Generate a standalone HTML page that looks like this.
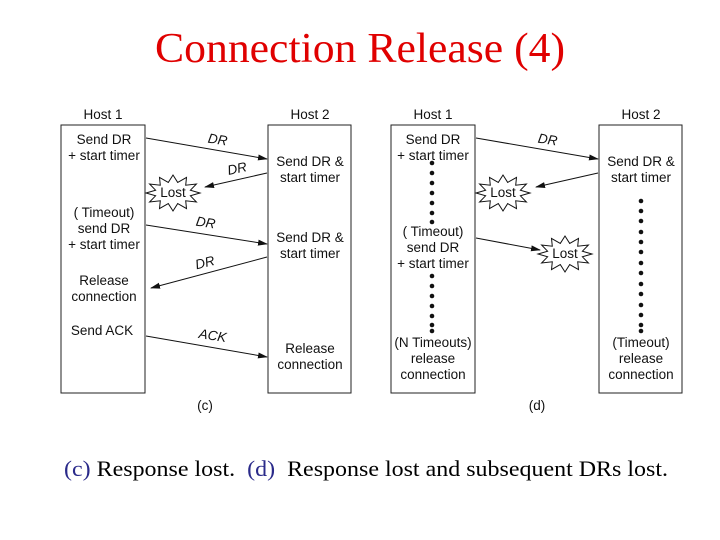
<!DOCTYPE html>
<html><head><meta charset="utf-8"><style>
html,body{margin:0;padding:0;background:#fff;}
svg{display:block;}
.t{font-family:"Liberation Sans",Arial,sans-serif;font-size:13.5px;fill:#111;text-anchor:middle;}
.i{font-style:italic;}
</style></head><body>
<svg width="720" height="540" viewBox="0 0 720 540" xmlns="http://www.w3.org/2000/svg">
<defs>
<marker id="a" markerWidth="10" markerHeight="8" refX="9" refY="4" orient="auto" markerUnits="userSpaceOnUse">
<path d="M0,1 L10,4 L0,7 Z" fill="#111"/></marker>
<polygon id="b" points="27,0 17.4,2.8 23.4,9 12.7,7.8 13.5,15.6 4.7,10.6 0,18 -4.7,10.6 -13.5,15.6 -12.7,7.8 -23.4,9 -17.4,2.8 -27,0 -17.4,-2.8 -23.4,-9 -12.7,-7.8 -13.5,-15.6 -4.7,-10.6 0,-18 4.7,-10.6 13.5,-15.6 12.7,-7.8 23.4,-9 17.4,-2.8" fill="#fff" stroke="#111" stroke-width="1"/>
</defs>
<text x="155" y="62" textLength="410" lengthAdjust="spacingAndGlyphs" font-family="Liberation Serif,serif" font-size="42" fill="#e00000">Connection Release (4)</text>

<g stroke="#222" stroke-width="1" fill="none">
<rect x="61" y="125" width="84" height="268"/>
<rect x="268" y="125" width="83" height="268"/>
<rect x="391" y="125" width="84" height="268"/>
<rect x="599" y="125" width="83" height="268"/>
</g>
<g class="t">
<text x="103" y="119">Host 1</text><text x="310" y="119">Host 2</text>
<text x="433" y="119">Host 1</text><text x="641" y="119">Host 2</text>
<text x="104" y="144">Send DR</text><text x="104" y="160">+ start timer</text>
<text x="104" y="217">( Timeout)</text><text x="104" y="233">send DR</text><text x="104" y="249">+ start timer</text>
<text x="104" y="285">Release</text><text x="104" y="301">connection</text>
<text x="102" y="335">Send ACK</text>
<text x="310" y="166">Send DR &amp;</text><text x="310" y="182">start timer</text>
<text x="310" y="242">Send DR &amp;</text><text x="310" y="258">start timer</text>
<text x="310" y="353">Release</text><text x="310" y="369">connection</text>
<text x="205" y="410">(c)</text>
<text x="433" y="144">Send DR</text><text x="433" y="160">+ start timer</text>
<text x="433" y="236">( Timeout)</text><text x="433" y="252">send DR</text><text x="433" y="268">+ start timer</text>
<text x="433" y="347">(N Timeouts)</text><text x="433" y="363">release</text><text x="433" y="379">connection</text>
<text x="641" y="166">Send DR &amp;</text><text x="641" y="182">start timer</text>
<text x="641" y="347">(Timeout)</text><text x="641" y="363">release</text><text x="641" y="379">connection</text>
<text x="537" y="410">(d)</text>
</g>
<g stroke="#111" stroke-width="1" marker-end="url(#a)">
<line x1="146" y1="138" x2="267" y2="159"/>
<line x1="267" y1="173" x2="205" y2="187"/>
<line x1="146" y1="225" x2="267" y2="244"/>
<line x1="267" y1="257" x2="151" y2="288"/>
<line x1="146" y1="336" x2="267" y2="357"/>
<line x1="476" y1="138" x2="598" y2="159"/>
<line x1="598" y1="173" x2="536" y2="187"/>
<line x1="476" y1="238" x2="540" y2="250"/>
</g>
<g class="t i">
<text x="217" y="144" transform="rotate(9 217 144)">DR</text>
<text x="238" y="173" transform="rotate(-12 238 173)">DR</text>
<text x="205" y="227" transform="rotate(9 205 227)">DR</text>
<text x="206" y="267" transform="rotate(-14 206 267)">DR</text>
<text x="212" y="340" transform="rotate(9 212 340)">ACK</text>
<text x="547" y="144" transform="rotate(9 547 144)">DR</text>
</g>
<use href="#b" x="173" y="193"/>
<use href="#b" x="503" y="193"/>
<use href="#b" x="565" y="254"/>
<g class="t"><text x="173" y="197">Lost</text><text x="503" y="197">Lost</text><text x="565" y="258">Lost</text></g>
<g fill="#111">
<circle cx="432" cy="163" r="2.3"/><circle cx="432" cy="173" r="2.3"/><circle cx="432" cy="183" r="2.3"/><circle cx="432" cy="193" r="2.3"/><circle cx="432" cy="203" r="2.3"/><circle cx="432" cy="213" r="2.3"/><circle cx="432" cy="222" r="2.3"/>
<circle cx="432" cy="276" r="2.3"/><circle cx="432" cy="286" r="2.3"/><circle cx="432" cy="296" r="2.3"/><circle cx="432" cy="306" r="2.3"/><circle cx="432" cy="316" r="2.3"/><circle cx="432" cy="325" r="2.3"/><circle cx="432" cy="331" r="2.3"/>
<circle cx="641" cy="201" r="2.3"/><circle cx="641" cy="211" r="2.3"/><circle cx="641" cy="221" r="2.3"/><circle cx="641" cy="232" r="2.3"/><circle cx="641" cy="242" r="2.3"/><circle cx="641" cy="252" r="2.3"/><circle cx="641" cy="263" r="2.3"/><circle cx="641" cy="273" r="2.3"/><circle cx="641" cy="284" r="2.3"/><circle cx="641" cy="294" r="2.3"/><circle cx="641" cy="305" r="2.3"/><circle cx="641" cy="315" r="2.3"/><circle cx="641" cy="325" r="2.3"/><circle cx="641" cy="331" r="2.3"/>
</g>
<text x="64" y="476" textLength="604" lengthAdjust="spacingAndGlyphs" font-family="Liberation Serif,serif" font-size="22" fill="#000" xml:space="preserve"><tspan fill="#2a2a8a">(c)</tspan> Response lost.  <tspan fill="#2a2a8a">(d)</tspan>  Response lost and subsequent DRs lost.</text>
</svg>
</body></html>
